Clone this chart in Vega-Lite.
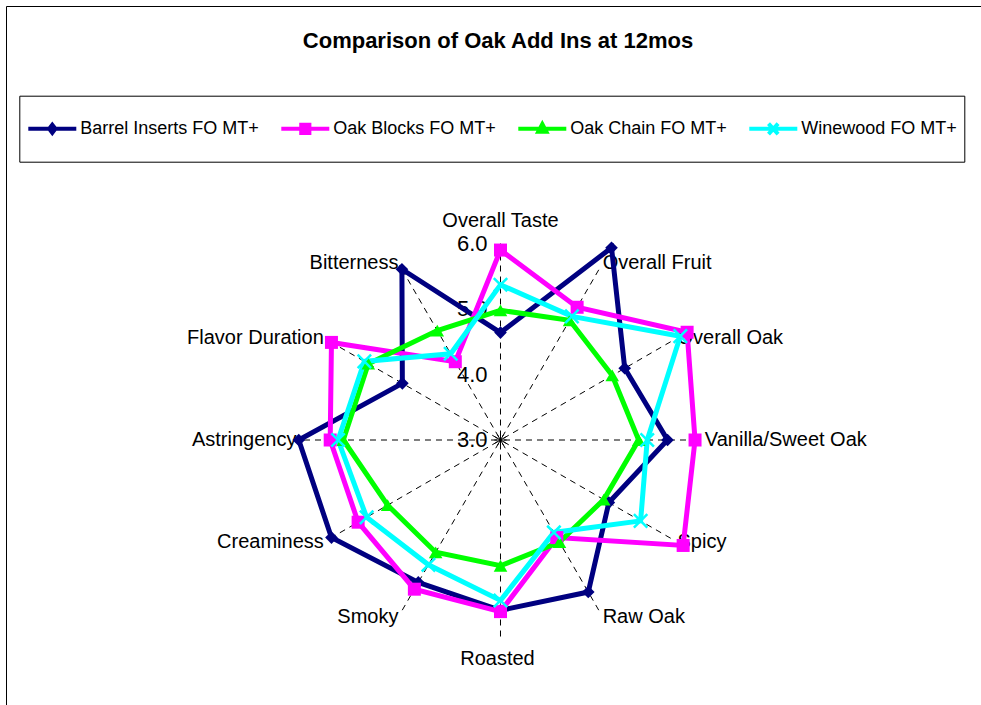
{
  "$schema": "https://vega.github.io/schema/vega-lite/v6.json",
  "width": 975,
  "height": 699,
  "autosize": {"type": "none"},
  "padding": {"left": 6, "top": 6, "right": 0, "bottom": 0},
  "background": "white",
  "config": {
    "view": {"stroke": "black", "strokeWidth": 1},
    "font": "Liberation Sans",
    "legend": {
      "orient": "none",
      "legendX": 13.3,
      "legendY": 89.7,
      "direction": "horizontal",
      "padding": 7,
      "strokeColor": "black",
      "strokeWidth": 1,
      "labelFont": "Liberation Sans",
      "labelFontSize": 18,
      "labelColor": "black",
      "labelLimit": 400,
      "columnPadding": 14,
      "symbolSize": 2304,
      "symbolStrokeWidth": 4,
      "labelOffset": 2,
      "symbolOffset": 0
    }
  },
  "title": {
    "text": "Comparison of Oak Add Ins at 12mos",
    "font": "Liberation Sans",
    "fontSize": 22,
    "fontWeight": "bold",
    "color": "black",
    "anchor": "middle",
    "frame": "group",
    "offset": 0,
    "baseline": "alphabetic",
    "dy": 64,
    "dx": 4.5
  },
  "datasets": {
    "scores": [
      {"series": "Barrel Inserts FO MT+", "attribute": "Overall Taste", "value": 4.64},
      {"series": "Barrel Inserts FO MT+", "attribute": "Overall Fruit", "value": 6.39},
      {"series": "Barrel Inserts FO MT+", "attribute": "Overall Oak", "value": 5.19},
      {"series": "Barrel Inserts FO MT+", "attribute": "Vanilla/Sweet Oak", "value": 5.55},
      {"series": "Barrel Inserts FO MT+", "attribute": "Spicy", "value": 4.91},
      {"series": "Barrel Inserts FO MT+", "attribute": "Raw Oak", "value": 5.68},
      {"series": "Barrel Inserts FO MT+", "attribute": "Roasted", "value": 5.60},
      {"series": "Barrel Inserts FO MT+", "attribute": "Smoky", "value": 5.51},
      {"series": "Barrel Inserts FO MT+", "attribute": "Creaminess", "value": 5.98},
      {"series": "Barrel Inserts FO MT+", "attribute": "Astringency", "value": 6.08},
      {"series": "Barrel Inserts FO MT+", "attribute": "Flavor Duration", "value": 4.73},
      {"series": "Barrel Inserts FO MT+", "attribute": "Bitterness", "value": 6.01},
      {"series": "Oak Blocks FO MT+", "attribute": "Overall Taste", "value": 5.90},
      {"series": "Oak Blocks FO MT+", "attribute": "Overall Fruit", "value": 5.34},
      {"series": "Oak Blocks FO MT+", "attribute": "Overall Oak", "value": 6.29},
      {"series": "Oak Blocks FO MT+", "attribute": "Vanilla/Sweet Oak", "value": 5.97},
      {"series": "Oak Blocks FO MT+", "attribute": "Spicy", "value": 6.22},
      {"series": "Oak Blocks FO MT+", "attribute": "Raw Oak", "value": 4.72},
      {"series": "Oak Blocks FO MT+", "attribute": "Roasted", "value": 5.62},
      {"series": "Oak Blocks FO MT+", "attribute": "Smoky", "value": 5.63},
      {"series": "Oak Blocks FO MT+", "attribute": "Creaminess", "value": 5.51},
      {"series": "Oak Blocks FO MT+", "attribute": "Astringency", "value": 5.60},
      {"series": "Oak Blocks FO MT+", "attribute": "Flavor Duration", "value": 5.98},
      {"series": "Oak Blocks FO MT+", "attribute": "Bitterness", "value": 4.38},
      {"series": "Oak Chain FO MT+", "attribute": "Overall Taste", "value": 4.98},
      {"series": "Oak Chain FO MT+", "attribute": "Overall Fruit", "value": 5.11},
      {"series": "Oak Chain FO MT+", "attribute": "Overall Oak", "value": 4.97},
      {"series": "Oak Chain FO MT+", "attribute": "Vanilla/Sweet Oak", "value": 5.11},
      {"series": "Oak Chain FO MT+", "attribute": "Spicy", "value": 4.82},
      {"series": "Oak Chain FO MT+", "attribute": "Raw Oak", "value": 4.80},
      {"series": "Oak Chain FO MT+", "attribute": "Roasted", "value": 4.92},
      {"series": "Oak Chain FO MT+", "attribute": "Smoky", "value": 4.98},
      {"series": "Oak Chain FO MT+", "attribute": "Creaminess", "value": 4.99},
      {"series": "Oak Chain FO MT+", "attribute": "Astringency", "value": 5.40},
      {"series": "Oak Chain FO MT+", "attribute": "Flavor Duration", "value": 5.33},
      {"series": "Oak Chain FO MT+", "attribute": "Bitterness", "value": 4.93},
      {"series": "Winewood FO MT+", "attribute": "Overall Taste", "value": 5.37},
      {"series": "Winewood FO MT+", "attribute": "Overall Fruit", "value": 5.18},
      {"series": "Winewood FO MT+", "attribute": "Overall Oak", "value": 6.17},
      {"series": "Winewood FO MT+", "attribute": "Vanilla/Sweet Oak", "value": 5.24},
      {"series": "Winewood FO MT+", "attribute": "Spicy", "value": 5.47},
      {"series": "Winewood FO MT+", "attribute": "Raw Oak", "value": 4.63},
      {"series": "Winewood FO MT+", "attribute": "Roasted", "value": 5.45},
      {"series": "Winewood FO MT+", "attribute": "Smoky", "value": 5.20},
      {"series": "Winewood FO MT+", "attribute": "Creaminess", "value": 5.36},
      {"series": "Winewood FO MT+", "attribute": "Astringency", "value": 5.48},
      {"series": "Winewood FO MT+", "attribute": "Flavor Duration", "value": 5.40},
      {"series": "Winewood FO MT+", "attribute": "Bitterness", "value": 4.52}
    ],
    "attributes": [
      {"attribute": "Overall Taste"},
      {"attribute": "Overall Fruit"},
      {"attribute": "Overall Oak"},
      {"attribute": "Vanilla/Sweet Oak"},
      {"attribute": "Spicy"},
      {"attribute": "Raw Oak"},
      {"attribute": "Roasted"},
      {"attribute": "Smoky"},
      {"attribute": "Creaminess"},
      {"attribute": "Astringency"},
      {"attribute": "Flavor Duration"},
      {"attribute": "Bitterness"}
    ],
    "ticks": [{"tick": 3}, {"tick": 4}, {"tick": 5}, {"tick": 6}]
  },
  "data": {"name": "scores"},
  "transform": [
    {"calculate": "indexof(['Overall Taste','Overall Fruit','Overall Oak','Vanilla/Sweet Oak','Spicy','Raw Oak','Roasted','Smoky','Creaminess','Astringency','Flavor Duration','Bitterness'], datum.attribute)", "as": "idx"},
    {"calculate": "datum.idx * PI / 6", "as": "theta"},
    {"calculate": "(datum.value - 3) * sin(datum.theta)", "as": "px"},
    {"calculate": "(datum.value - 3) * cos(datum.theta)", "as": "py"}
  ],
  "layer": [
    {
      "data": {"name": "attributes"},
      "transform": [
        {"calculate": "indexof(['Overall Taste','Overall Fruit','Overall Oak','Vanilla/Sweet Oak','Spicy','Raw Oak','Roasted','Smoky','Creaminess','Astringency','Flavor Duration','Bitterness'], datum.attribute) * PI / 6", "as": "theta"},
        {"calculate": "3 * sin(datum.theta)", "as": "sx"},
        {"calculate": "3 * cos(datum.theta)", "as": "sy"}
      ],
      "mark": {"type": "rule", "stroke": "#000000", "strokeWidth": 1, "strokeDash": [6, 5]},
      "encoding": {
        "x": {"field": "sx", "type": "quantitative", "scale": {"domain": [-7.5496, 7.3359], "nice": false, "zero": false}, "axis": null},
        "y": {"field": "sy", "type": "quantitative", "scale": {"domain": [-4.0458, 6.6260], "nice": false, "zero": false}, "axis": null},
        "x2": {"datum": 0},
        "y2": {"datum": 0}
      }
    },
    {
      "data": {"name": "ticks"},
      "transform": [
        {"filter": "datum.tick == 3"},
        {"calculate": "datum.tick - 3", "as": "ty"}
      ],
      "mark": {"type": "point", "shape": "M-1,0H1M0,-1V1M-0.87,-0.5L0.87,0.5M-0.87,0.5L0.87,-0.5M-0.5,-0.87L0.5,0.87M-0.5,0.87L0.5,-0.87", "size": 150, "filled": false, "stroke": "black", "strokeWidth": 1, "opacity": 1},
      "encoding": {
        "x": {"datum": 0, "type": "quantitative"},
        "y": {"field": "ty", "type": "quantitative"}
      }
    },
    {
      "data": {"name": "ticks"},
      "transform": [{"calculate": "datum.tick - 3", "as": "ty"}],
      "mark": {"type": "text", "align": "right", "baseline": "middle", "dx": -13, "fontSize": 22, "font": "Liberation Sans", "color": "black"},
      "encoding": {
        "x": {"datum": 0, "type": "quantitative"},
        "y": {"field": "ty", "type": "quantitative"},
        "text": {"field": "tick", "type": "quantitative", "format": ".1f"}
      }
    },
    {
      "data": {"name": "attributes"},
      "transform": [
        {"filter": {"field": "attribute", "oneOf": ["Overall Fruit", "Overall Oak", "Vanilla/Sweet Oak", "Spicy", "Raw Oak"]}},
        {"calculate": "indexof(['Overall Taste','Overall Fruit','Overall Oak','Vanilla/Sweet Oak','Spicy','Raw Oak','Roasted','Smoky','Creaminess','Astringency','Flavor Duration','Bitterness'], datum.attribute) * PI / 6", "as": "theta"},
        {"calculate": "3.12 * sin(datum.theta)", "as": "lx"},
        {"calculate": "3.12 * cos(datum.theta)", "as": "ly"}
      ],
      "mark": {"type": "text", "align": "left", "baseline": "middle", "fontSize": 20, "font": "Liberation Sans", "color": "black"},
      "encoding": {
        "x": {"field": "lx", "type": "quantitative"},
        "y": {"field": "ly", "type": "quantitative"},
        "text": {"field": "attribute"}
      }
    },
    {
      "data": {"name": "attributes"},
      "transform": [
        {"filter": {"field": "attribute", "oneOf": ["Smoky", "Creaminess", "Astringency", "Flavor Duration", "Bitterness"]}},
        {"calculate": "indexof(['Overall Taste','Overall Fruit','Overall Oak','Vanilla/Sweet Oak','Spicy','Raw Oak','Roasted','Smoky','Creaminess','Astringency','Flavor Duration','Bitterness'], datum.attribute) * PI / 6", "as": "theta"},
        {"calculate": "3.115 * sin(datum.theta)", "as": "lx"},
        {"calculate": "3.115 * cos(datum.theta)", "as": "ly"}
      ],
      "mark": {"type": "text", "align": "right", "baseline": "middle", "fontSize": 20, "font": "Liberation Sans", "color": "black"},
      "encoding": {
        "x": {"field": "lx", "type": "quantitative"},
        "y": {"field": "ly", "type": "quantitative"},
        "text": {"field": "attribute"}
      }
    },
    {
      "data": {"name": "attributes"},
      "transform": [
        {"filter": "datum.attribute == 'Overall Taste'"},
        {"calculate": "0", "as": "lx"},
        {"calculate": "3.252", "as": "ly"}
      ],
      "mark": {"type": "text", "align": "center", "baseline": "alphabetic", "fontSize": 20, "font": "Liberation Sans", "color": "black"},
      "encoding": {
        "x": {"field": "lx", "type": "quantitative"},
        "y": {"field": "ly", "type": "quantitative"},
        "text": {"field": "attribute"}
      }
    },
    {
      "data": {"name": "attributes"},
      "transform": [
        {"filter": "datum.attribute == 'Roasted'"},
        {"calculate": "0", "as": "lx"},
        {"calculate": "-3.435", "as": "ly"}
      ],
      "mark": {"type": "text", "align": "center", "baseline": "alphabetic", "dx": -3, "fontSize": 20, "font": "Liberation Sans", "color": "black"},
      "encoding": {
        "x": {"field": "lx", "type": "quantitative"},
        "y": {"field": "ly", "type": "quantitative"},
        "text": {"field": "attribute"}
      }
    },
    {
      "mark": {"type": "line", "interpolate": "linear-closed", "strokeWidth": 5, "strokeJoin": "miter"},
      "encoding": {
        "x": {"field": "px", "type": "quantitative"},
        "y": {"field": "py", "type": "quantitative"},
        "order": {"field": "idx", "type": "quantitative"},
        "color": {
          "field": "series",
          "type": "nominal",
          "scale": {"range": ["#000080", "#FF00FF", "#00FF00", "#00FFFF"]},
          "legend": null
        }
      }
    },
    {
      "transform": [{"filter": "datum.series == 'Barrel Inserts FO MT+'"}],
      "mark": {"type": "point", "shape": "diamond", "size": 160, "filled": true, "opacity": 1},
      "encoding": {
        "x": {"field": "px", "type": "quantitative"},
        "y": {"field": "py", "type": "quantitative"},
        "color": {"field": "series", "type": "nominal", "legend": null}
      }
    },
    {
      "transform": [{"filter": "datum.series == 'Oak Blocks FO MT+'"}],
      "mark": {"type": "point", "shape": "square", "size": 169, "filled": true, "opacity": 1},
      "encoding": {
        "x": {"field": "px", "type": "quantitative"},
        "y": {"field": "py", "type": "quantitative"},
        "color": {"field": "series", "type": "nominal", "legend": null}
      }
    },
    {
      "transform": [{"filter": "datum.series == 'Oak Chain FO MT+'"}],
      "mark": {"type": "point", "shape": "triangle-up", "size": 185, "filled": true, "opacity": 1},
      "encoding": {
        "x": {"field": "px", "type": "quantitative"},
        "y": {"field": "py", "type": "quantitative"},
        "color": {"field": "series", "type": "nominal", "legend": null}
      }
    },
    {
      "transform": [{"filter": "datum.series == 'Winewood FO MT+'"}],
      "mark": {"type": "point", "shape": "M-1,-1L1,1M-1,1L1,-1", "size": 180, "filled": false, "strokeWidth": 2.5, "opacity": 1},
      "encoding": {
        "x": {"field": "px", "type": "quantitative"},
        "y": {"field": "py", "type": "quantitative"},
        "color": {"field": "series", "type": "nominal", "legend": null}
      }
    },
    {
      "transform": [{"filter": "datum.value < 0"}],
      "mark": {
        "type": "point",
        "filled": true,
        "opacity": 1,
        "strokeWidth": 4,
        "fill": {"expr": "scale('color', datum.value)"},
        "stroke": {"expr": "scale('color', datum.value)"}
      },
      "encoding": {
        "shape": {
          "field": "series",
          "type": "nominal",
          "scale": {
            "domain": ["Barrel Inserts FO MT+", "Oak Blocks FO MT+", "Oak Chain FO MT+", "Winewood FO MT+"],
            "range": [
              "M-1,0H1M-0.13,0L0,-0.17L0.13,0L0,0.17ZM0,0.74",
              "M-1,0H1M-0.17,-0.17H0.17V0.17H-0.17ZM0,0.74",
              "M-1,0H1M0,-0.2L0.17,0.12H-0.17ZM0,0.74",
              "M-1,0H1M-0.2,-0.22L0.2,0.22M-0.2,0.22L0.2,-0.22M0,0.74"
            ]
          },
          "legend": {"title": null}
        }
      }
    }
  ]
}
